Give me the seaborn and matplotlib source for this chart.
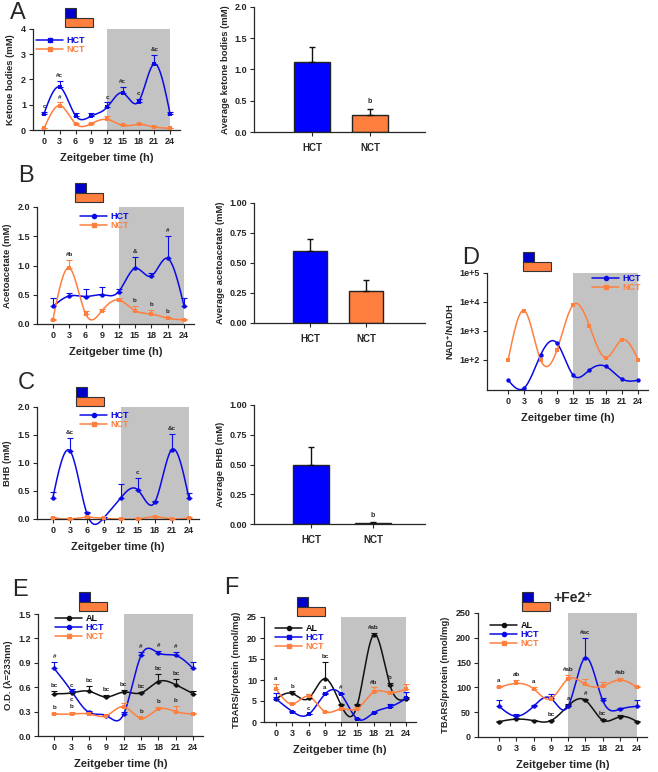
import numpy as np
import pandas as pd
import matplotlib
matplotlib.use('Agg')
import matplotlib.pyplot as plt
import seaborn as sns
from matplotlib.lines import Line2D
from matplotlib.patches import Rectangle

# valores
zt = [0, 3, 6, 9, 12, 15, 18, 21, 24]

# A - corpos cetonicos
a_hct = [0.65, 1.70, 0.57, 0.55, 0.90, 1.47, 1.12, 2.62, 0.65]
a_hct_err = [0.08, 0.25, 0.10, 0.12, 0.20, 0.25, 0.12, 0.35, 0.08]
a_hct_lab = ['c', '#c', '', '', 'c', '#c', 'c', '&c', '']
a_nct = [0.07, 0.97, 0.25, 0.25, 0.42, 0.18, 0.22, 0.12, 0.07]
a_nct_err = [0.02, 0.12, 0.04, 0.04, 0.15, 0.05, 0.05, 0.05, 0.02]
a_nct_lab = ['', '#', '', '', '', '', '', '', '']
a_bar = [1.12, 0.27]
a_bar_err = [0.24, 0.10]
a_bar_lab = ['', 'b']

# B - acetoacetato
b_hct = [0.30, 0.48, 0.47, 0.50, 0.55, 0.95, 0.82, 1.12, 0.30]
b_hct_err = [0.15, 0.05, 0.13, 0.14, 0.05, 0.20, 0.05, 0.38, 0.15]
b_hct_lab = ['', '', '', '', '', '&', '', '#', '']
b_nct = [0.07, 0.96, 0.17, 0.23, 0.41, 0.23, 0.17, 0.10, 0.07]
b_nct_err = [0.01, 0.13, 0.05, 0.02, 0.03, 0.08, 0.07, 0.02, 0.01]
b_nct_lab = ['', '#b', '', '', '', 'b', 'b', 'b', '']
b_bar = [0.60, 0.27]
b_bar_err = [0.10, 0.09]
b_bar_lab = ['', '']

# C - BHB
c_hct = [0.38, 1.22, 0.10, 0.02, 0.38, 0.52, 0.30, 1.24, 0.38]
c_hct_err = [0.10, 0.23, 0.03, 0.02, 0.24, 0.21, 0.03, 0.28, 0.09]
c_hct_lab = ['', '&c', '', '', '', 'c', '', '&c', '']
c_nct = [0.02, 0.00, 0.03, 0.01, 0.00, 0.00, 0.04, 0.00, 0.02]
c_nct_err = [0.01, 0.01, 0.02, 0.01, 0.01, 0.01, 0.01, 0.01, 0.01]
c_nct_lab = [''] * 9
c_bar = [0.50, 0.01]
c_bar_err = [0.15, 0.005]
c_bar_lab = ['', 'b']

# D - NAD+/NADH
d_hct = [20, 11, 150, 380, 30, 45, 60, 22, 20]
d_nct = [100, 5000, 100, 220, 8000, 1500, 120, 500, 100]

# E - O.D.
e_al = [0.52, 0.53, 0.55, 0.48, 0.54, 0.53, 0.67, 0.63, 0.52]
e_al_err = [0.03, 0.02, 0.07, 0.02, 0.02, 0.01, 0.09, 0.07, 0.03]
e_al_lab = ['bc', 'c', 'bc', 'bc', 'bc', 'bc', 'bc', 'bc', '']
e_hct = [0.83, 0.55, 0.29, 0.25, 0.27, 0.99, 1.02, 0.99, 0.83]
e_hct_err = [0.08, 0.03, 0.02, 0.01, 0.02, 0.04, 0.03, 0.04, 0.08]
e_hct_lab = ['#', '', '', '', '', '#', '#', '#', '']
e_hct_lab_below = ['', 'c', '', '', '', '', '', '', '']
e_nct = [0.27, 0.27, 0.27, 0.25, 0.36, 0.22, 0.33, 0.30, 0.27]
e_nct_err = [0.01, 0.02, 0.02, 0.01, 0.04, 0.01, 0.03, 0.07, 0.01]
e_nct_lab = ['b', 'b', '', '', '', 'b', 'b', 'b', '']

# F - TBARS
f_al = [5.5, 6.8, 5.6, 10.3, 4.0, 4.1, 20.8, 8.8, 5.5]
f_al_err = [0.5, 0.5, 1.0, 4.0, 0.3, 0.3, 0.5, 0.5, 0.5]
f_al_lab = ['', 'b', '', 'bc', '', '', '#ab', 'b', '']
f_hct = [5.5, 2.5, 1.8, 6.6, 6.6, 0.7, 2.2, 3.6, 5.6]
f_hct_err = [1.5, 0.2, 0.2, 0.3, 0.3, 0.2, 0.2, 0.6, 1.5]
f_hct_lab = ['', '', 'c', 'a', '#', '', '', '', '']
f_nct = [7.9, 4.3, 6.1, 2.5, 3.1, 3.2, 7.1, 7.0, 7.9]
f_nct_err = [1.2, 0.2, 0.5, 0.2, 0.3, 0.3, 1.2, 0.5, 1.2]
f_nct_lab = ['a', '', '', '', '', '', '#b', 'a', '']

# F2 - TBARS + Fe2+
g_al = [31, 36, 33, 33, 63, 74, 34, 41, 31]
g_al_err = [2, 2, 2, 2, 3, 3, 2, 3, 2]
g_al_lab = ['', '', '', 'bc', 'a', '#', 'bc', '', '']
g_hct = [62, 42, 62, 78, 62, 160, 74, 56, 62]
g_hct_err = [12, 5, 3, 8, 3, 40, 5, 3, 12]
g_hct_lab = ['', '', '', '', '', '#ac', '', '', '']
g_nct = [100, 108, 97, 77, 117, 106, 103, 115, 100]
g_nct_err = [3, 6, 3, 5, 8, 10, 8, 3, 3]
g_nct_lab = ['a', 'ab', 'a', '', '#ab', '', '', '#ab', '']

groups = ['HCT', 'NCT']
BLUE = '#0a0ae6'
ORANGE = '#ff7f3f'
BLACK = '#111111'

sns.set_style('ticks')
plt.rcParams['font.family'] = ['Liberation Sans', 'DejaVu Sans']
plt.rcParams['font.weight'] = 'bold'
plt.rcParams['axes.labelweight'] = 'bold'

W, H = 658, 772
fig = plt.figure(figsize=(W / 100, H / 100), dpi=100)


def add_ax(l, t, r, b):
    return fig.add_axes([l / W, 1 - b / H, (r - l) / W, (b - t) / H])


def estilo(ax):
    sns.despine(ax=ax)
    ax.tick_params(direction='out', length=3, width=0.8, labelsize=6.5, pad=2)
    for s in ['left', 'bottom']:
        ax.spines[s].set_linewidth(0.9)


# spline cubica natural so para desenhar a curva suave
def spline(x, y, n=300):
    x = np.asarray(x, float)
    y = np.asarray(y, float)
    h = np.diff(x)
    m = len(x)
    A = np.zeros((m, m))
    r = np.zeros(m)
    A[0, 0] = A[-1, -1] = 1
    for i in range(1, m - 1):
        A[i, i - 1] = h[i - 1]
        A[i, i] = 2 * (h[i - 1] + h[i])
        A[i, i + 1] = h[i]
        r[i] = 3 * ((y[i + 1] - y[i]) / h[i] - (y[i] - y[i - 1]) / h[i - 1])
    c = np.linalg.solve(A, r)
    b = (y[1:] - y[:-1]) / h - h * (2 * c[:-1] + c[1:]) / 3
    d = (c[1:] - c[:-1]) / (3 * h)
    xs = np.linspace(x[0], x[-1], n)
    idx = np.clip(np.searchsorted(x, xs) - 1, 0, m - 2)
    dx = xs - x[idx]
    return xs, y[idx] + b[idx] * dx + c[idx] * dx ** 2 + d[idx] * dx ** 3


def simbolo(x0, y0):
    fig.add_artist(Rectangle((x0 / W, 1 - (y0 + 10) / H), 11 / W, 10 / H,
                             transform=fig.transFigure, fc='#0000c8', ec='#333333', lw=0.8))
    fig.add_artist(Rectangle((x0 / W, 1 - (y0 + 19) / H), 28 / W, 9 / H,
                             transform=fig.transFigure, fc=ORANGE, ec='#333333', lw=0.8))


def painel_linha(box, xlim, ylim, yticks, curvas, ylabel, leg_xy, logy=False):
    ax = add_ax(*box)
    ax.axvspan(12, 24, color='#c3c3c3', lw=0, zorder=0)
    pad = 0.025 * (ylim[1] - ylim[0])
    handles = []
    for nome, y, err, cor, mk, lab, lab_dn in curvas:
        y = np.asarray(y, float)
        if logy:
            xs, ys = spline(zt, np.log10(y))
            ys = 10 ** ys
        else:
            xs, ys = spline(zt, y)
        sns.lineplot(x=xs, y=ys, ax=ax, color=cor, lw=1.1, sort=False,
                     estimator=None, clip_on=False, zorder=2)
        sns.scatterplot(x=zt, y=y, ax=ax, color=cor, marker=mk, s=10,
                        linewidth=0, zorder=4, clip_on=False)
        if err is not None:
            err = np.asarray(err, float)
            ax.errorbar(zt, y, yerr=[np.zeros_like(err), err], fmt='none',
                        ecolor=cor, elinewidth=0.8, capsize=2, capthick=0.8, zorder=3)
            for xi, yi, ei, t in zip(zt, y, err, lab):
                if t:
                    ax.text(xi, yi + ei + pad, t, fontsize=4.5, ha='center',
                            va='bottom', color='#222222')
        if lab_dn:
            for xi, yi, t in zip(zt, y, lab_dn):
                if t:
                    ax.text(xi, yi - 2 * pad, t, fontsize=4.5, ha='center',
                            va='top', color='#222222')
        handles.append(Line2D([0], [0], color=cor, marker=mk, ms=3, lw=1.1, label=nome))
    ax.set_xlim(*xlim)
    ax.set_ylim(*ylim)
    ax.set_xticks(zt)
    if logy:
        ax.set_yscale('log')
        ax.set_ylim(*ylim)
        ax.set_yticks(yticks)
        ax.set_yticklabels(['1e+%d' % int(np.log10(v)) for v in yticks])
        ax.yaxis.set_minor_locator(matplotlib.ticker.NullLocator())
    else:
        ax.set_yticks(yticks)
    estilo(ax)
    ax.set_xlabel('Zeitgeber time (h)', fontsize=8, labelpad=5)
    ax.set_ylabel(ylabel, fontsize=6.8, labelpad=4)
    ax.legend(handles=handles, loc='upper left',
              bbox_to_anchor=(leg_xy[0] / W, 1 - leg_xy[1] / H),
              bbox_transform=fig.transFigure, frameon=False, fontsize=6.5,
              handlelength=3.0, handletextpad=0.4, labelspacing=0.0,
              borderpad=0, borderaxespad=0, labelcolor='linecolor')
    return ax


def painel_barra(box, xlim, largura, vals, errs, labs, ylim, yticks, fmt, ylabel):
    ax = add_ax(*box)
    df = pd.DataFrame({'grupo': groups, 'valor': vals})
    sns.barplot(data=df, x='grupo', y='valor', hue='grupo', palette=['#0000ff', ORANGE],
                saturation=1, edgecolor='#222222', linewidth=1, width=largura,
                legend=False, ax=ax)
    ax.errorbar([0, 1], vals, yerr=[[0, 0], errs], fmt='none', ecolor='#111111',
                elinewidth=1, capsize=2.5, capthick=1)
    pad = 0.03 * (ylim[1] - ylim[0])
    for i, (v, e, t) in enumerate(zip(vals, errs, labs)):
        if t:
            ax.text(i, v + e + pad, t, fontsize=5, ha='center', va='bottom')
    ax.set_xlim(*xlim)
    ax.set_ylim(*ylim)
    ax.set_yticks(yticks)
    ax.set_yticklabels([fmt % v for v in yticks])
    estilo(ax)
    ax.tick_params(axis='x', labelsize=7, length=3, pad=5)
    ax.set_xlabel('')
    ax.set_ylabel(ylabel, fontsize=6.8, labelpad=3)
    return ax


# A
painel_linha((33, 29, 180, 130), (-2.1, 25.9), (0, 4), [0, 1, 2, 3, 4],
             [('HCT', a_hct, a_hct_err, BLUE, 's', a_hct_lab, None),
              ('NCT', a_nct, a_nct_err, ORANGE, 's', a_nct_lab, None)],
             'Ketone bodies (mM)', (36, 36))
painel_barra((254, 7, 425, 132), (-1.0, 1.95), 0.62, a_bar, a_bar_err, a_bar_lab,
             (0, 2), [0, 0.5, 1.0, 1.5, 2.0], '%.1f', 'Average ketone bodies (mM)')

# B
painel_linha((37, 207, 194, 324), (-2.9, 25.8), (0, 2), [0, 0.5, 1.0, 1.5, 2.0],
             [('HCT', b_hct, b_hct_err, BLUE, 'o', b_hct_lab, None),
              ('NCT', b_nct, b_nct_err, ORANGE, 's', b_nct_lab, None)],
             'Acetoacetate (mM)', (80, 212))
painel_barra((254, 203, 425, 323), (-1.0, 2.05), 0.61, b_bar, b_bar_err, b_bar_lab,
             (0, 1), [0, 0.25, 0.5, 0.75, 1.0], '%.2f', 'Average acetoacetate (mM)')

# C
painel_linha((37, 407, 199, 519), (-2.8, 25.8), (0, 2), [0, 0.5, 1.0, 1.5, 2.0],
             [('HCT', c_hct, c_hct_err, BLUE, 'o', c_hct_lab, None),
              ('NCT', c_nct, c_nct_err, ORANGE, 's', c_nct_lab, None)],
             'BHB (mM)', (80, 411))
painel_barra((254, 405, 425, 524), (-0.92, 1.84), 0.58, c_bar, c_bar_err, c_bar_lab,
             (0, 1), [0, 0.25, 0.5, 0.75, 1.0], '%.2f', 'Average BHB (mM)')

# D
painel_linha((487, 273, 648, 390), (-3.9, 25.8), (9.2, 1e5), [1e2, 1e3, 1e4, 1e5],
             [('HCT', d_hct, None, BLUE, 'o', None, None),
              ('NCT', d_nct, None, ORANGE, 's', None, None)],
             'NAD⁺/NADH', (592, 274), logy=True)

# E
painel_linha((38, 614, 203, 736), (-2.8, 25.7), (0, 1.5), [0, 0.3, 0.6, 0.9, 1.2, 1.5],
             [('AL', e_al, e_al_err, BLACK, 'o', e_al_lab, None),
              ('HCT', e_hct, e_hct_err, BLUE, 'o', e_hct_lab, e_hct_lab_below),
              ('NCT', e_nct, e_nct_err, ORANGE, 's', e_nct_lab, None)],
             'O.D. (λ=233nm)', (55, 614))

# F
painel_linha((264, 617, 416, 722), (-2.2, 25.8), (0, 25), [0, 5, 10, 15, 20, 25],
             [('AL', f_al, f_al_err, BLACK, 'o', f_al_lab, None),
              ('HCT', f_hct, f_hct_err, BLUE, 's', f_hct_lab, None),
              ('NCT', f_nct, f_nct_err, ORANGE, 's', f_nct_lab, None)],
             'TBARS/protein (nmol/mg)', (275, 624))

# F + Fe2+
painel_linha((478, 613, 647, 737), (-3.65, 25.7), (0, 250), [0, 50, 100, 150, 200, 250],
             [('AL', g_al, g_al_err, BLACK, 'o', g_al_lab, None),
              ('HCT', g_hct, g_hct_err, BLUE, 'o', g_hct_lab, None),
              ('NCT', g_nct, g_nct_err, ORANGE, 's', g_nct_lab, None)],
             'TBARS/protein (nmol/mg)', (490, 621))

# simbolos e letras dos paineis
for x0, y0 in [(65, 8), (75, 183), (76, 387), (523, 252), (79, 592), (297, 597), (522, 592)]:
    simbolo(x0, y0)

for t, x, y in [('A', 10, 13), ('B', 18, 176), ('C', 18, 383), ('D', 462, 258),
                ('E', 12, 590), ('F', 224, 588)]:
    fig.text(x / W, 1 - y / H, t, fontsize=17, fontweight='normal', va='center', ha='left')
fig.text(553 / W, 1 - 598 / H, '+Fe2⁺', fontsize=10, va='center', ha='left')

fig.savefig('out.png', dpi=100)
